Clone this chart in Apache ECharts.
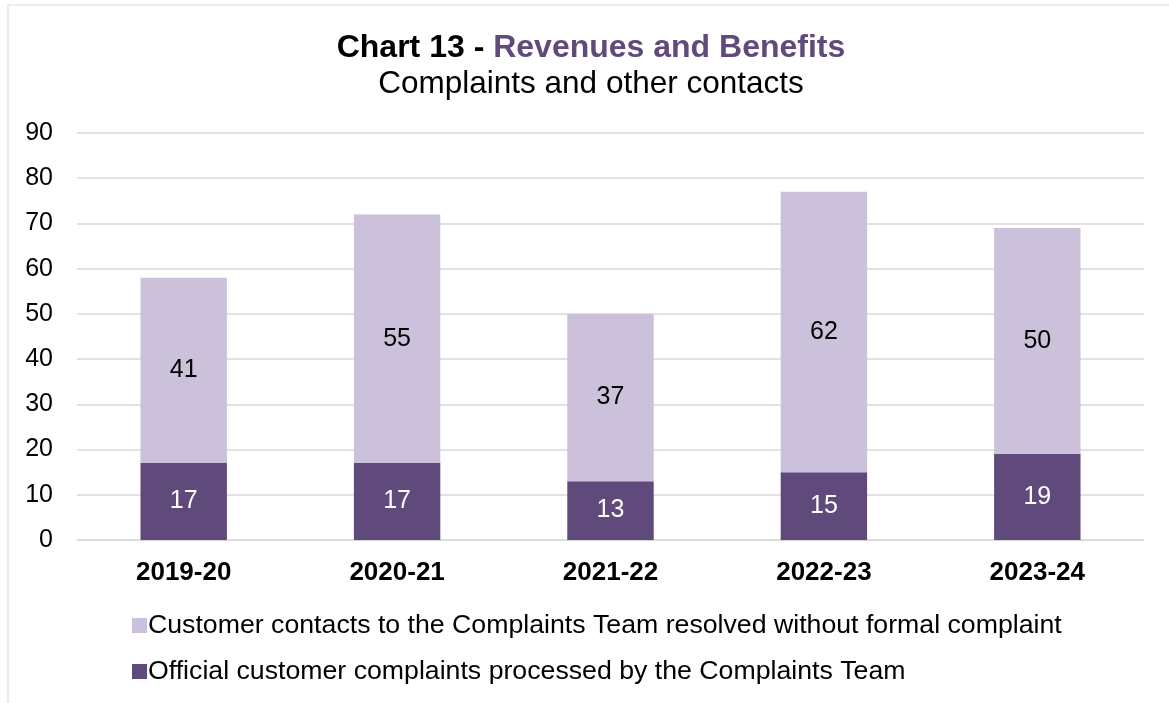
<!DOCTYPE html>
<html><head><meta charset="utf-8">
<script src="https://cdn.jsdelivr.net/npm/echarts@6/dist/echarts.min.js"></script>
<style>html,body{margin:0;padding:0;background:#fff}#c{width:1169px;height:703px}</style>
</head><body><div id="c"></div>
<script>
const categories = ['2019-20','2020-21','2021-22','2022-23','2023-24'];
const officialComplaints = [17,17,13,15,19];
const resolvedContacts = [41,55,37,62,50];
const yTicks = {min:0,max:90,interval:10};
const seriesNames = ['Official customer complaints processed by the Complaints Team','Customer contacts to the Complaints Team resolved without formal complaint'];

const chart = echarts.init(document.getElementById('c'));
const font = 'Liberation Sans, Arial, sans-serif';
chart.setOption({
  animation:false,
  textStyle:{fontFamily:font},
  title:{
    left:586, top:27, textAlign:'center', itemGap:4,
    text:'{b|Chart 13 - }{p|Revenues and Benefits}',
    textStyle:{rich:{
      b:{fontSize:32,fontWeight:'bold',color:'#000',fontFamily:font},
      p:{fontSize:32,fontWeight:'bold',color:'#604a7b',fontFamily:font}
    }},
    subtext:'Complaints and other contacts',
    subtextStyle:{fontSize:31.5,color:'#000',fontFamily:font}
  },
  graphic:[
    {type:'line',shape:{x1:8,y1:5,x2:1169,y2:5},style:{stroke:'#d9d9d9',lineWidth:1}},
    {type:'line',shape:{x1:8,y1:5,x2:8,y2:703},style:{stroke:'#d9d9d9',lineWidth:1}}
  ],
  legend:{
    orient:'vertical', left:127, top:607, itemGap:19,
    itemWidth:15, itemHeight:15, icon:'rect',
    data:[seriesNames[1],seriesNames[0]],
    textStyle:{fontSize:26.7,color:'#000',fontFamily:font,padding:[0,0,0,-4]}
  },
  grid:{left:77,right:25,top:133,bottom:163},
  xAxis:{
    type:'category', data:categories,
    axisLine:{lineStyle:{color:'#d9d9d9'}}, axisTick:{show:false},
    axisLabel:{fontSize:26,fontWeight:'bold',color:'#000',margin:20,fontFamily:font}
  },
  yAxis:{
    type:'value', min:yTicks.min, max:yTicks.max, interval:yTicks.interval,
    axisLine:{show:false}, axisTick:{show:false},
    splitLine:{lineStyle:{color:'#d9d9d9',width:1.5}},
    axisLabel:{fontSize:25,color:'#000',margin:24,fontFamily:font}
  },
  series:[
    {name:seriesNames[0],type:'bar',stack:'a',data:officialComplaints,barWidth:'40.5%',
     itemStyle:{color:'#604a7b'},
     label:{show:true,position:'inside',color:'#fff',fontSize:25,fontFamily:font}},
    {name:seriesNames[1],type:'bar',stack:'a',data:resolvedContacts,barWidth:'40.5%',
     itemStyle:{color:'#ccc1da'},
     label:{show:true,position:'inside',color:'#000',fontSize:25,fontFamily:font}}
  ]
});
</script></body></html>
